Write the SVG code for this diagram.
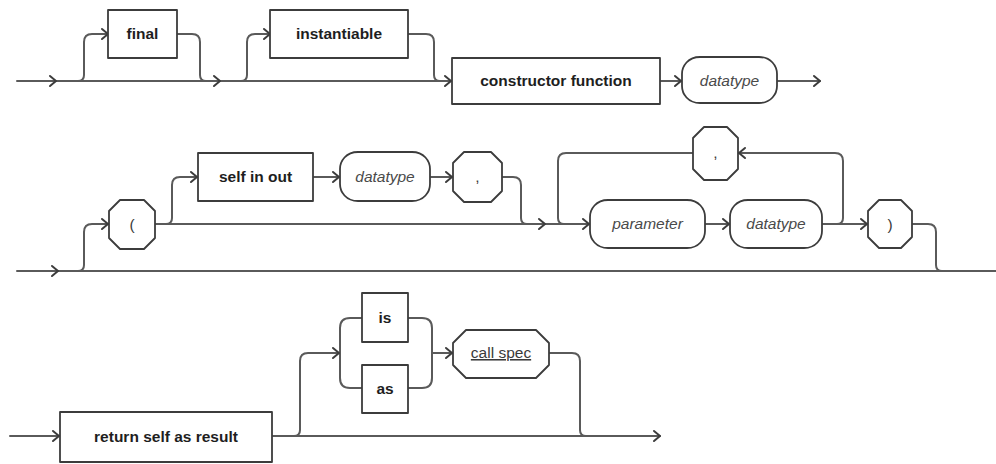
<svg xmlns="http://www.w3.org/2000/svg" xmlns:xlink="http://www.w3.org/1999/xlink" width="996" height="464" viewBox="0 0 996 464">
  <defs>
    <style>
      .line { fill: none; stroke: #5a5a5a; stroke-width: 2; stroke-linecap: round; stroke-linejoin: round; }
      .shape { fill: #ffffff; stroke: #3c3c3c; stroke-width: 1.8; stroke-linejoin: round; }
      .kw { font-family: "Liberation Sans", Arial, sans-serif; font-weight: bold; font-size: 15.5px; fill: #1e1e1e; text-anchor: middle; }
      .nt { font-family: "Liberation Sans", Arial, sans-serif; font-style: italic; font-size: 15.5px; fill: #4a4a4a; text-anchor: middle; }
      .pn { font-family: "Liberation Sans", Arial, sans-serif; font-size: 15.5px; fill: #3a3a3a; text-anchor: middle; }
      .ul { text-decoration: underline; }
    </style>
    <!-- open chevron arrowhead, tip at the origin, pointing right -->
    <path id="ah" d="M-6,-5 L0,0 L-6,5" fill="none" stroke="#3c3c3c" stroke-width="2" stroke-linecap="round" stroke-linejoin="round"/>
  </defs>

  <!-- connectors -->
  <g id="connectors">
    <!-- row 1 -->
    <path class="line" d="M17,81 H452"/>
    <path class="line" d="M78,81 Q84,81 84,75 V42 Q84,34 92,34 H108"/>
    <path class="line" d="M177,34 H192 Q200,34 200,42 V75 Q200,81 206,81"/>
    <path class="line" d="M241,81 Q247,81 247,75 V42 Q247,34 255,34 H270"/>
    <path class="line" d="M408,34 H426 Q434,34 434,42 V75 Q434,81 440,81"/>
    <path class="line" d="M660,81 H682"/>
    <path class="line" d="M777,81 H820"/>

    <!-- row 2 -->
    <path class="line" d="M17,271 H996"/>
    <path class="line" d="M78,271 Q84,271 84,265 V232 Q84,224 92,224 H109"/>
    <path class="line" d="M155,224 H590"/>
    <path class="line" d="M166,224 Q172,224 172,218 V185 Q172,177 180,177 H198"/>
    <path class="line" d="M313,177 H340"/>
    <path class="line" d="M430,177 H453"/>
    <path class="line" d="M502,177 H513 Q521,177 521,185 V218 Q521,224 527,224"/>
    <path class="line" d="M705,224 H730"/>
    <path class="line" d="M822,224 H868"/>
    <path class="line" d="M837,224 Q843,224 843,218 V161 Q843,153 835,153 H738"/>
    <path class="line" d="M693,153 H566 Q558,153 558,161 V218 Q558,224 564,224"/>
    <path class="line" d="M912,224 H928 Q936,224 936,232 V265 Q936,271 942,271"/>

    <!-- row 3 -->
    <path class="line" d="M10,436 H60"/>
    <path class="line" d="M272,436 H660"/>
    <path class="line" d="M294,436 Q300,436 300,430 V361 Q300,353 308,353 H340"/>
    <path class="line" d="M362,318 H350 Q340,318 340,328 V378 Q340,388 350,388 H362"/>
    <path class="line" d="M408,318 H422 Q432,318 432,328 V378 Q432,388 422,388 H408"/>
    <path class="line" d="M432,353 H453"/>
    <path class="line" d="M549,353 H572 Q580,353 580,361 V430 Q580,436 586,436"/>

    <!-- arrowheads -->
    <use xlink:href="#ah" x="56" y="81"/>
    <use xlink:href="#ah" x="108" y="34"/>
    <use xlink:href="#ah" x="220" y="81"/>
    <use xlink:href="#ah" x="270" y="34"/>
    <use xlink:href="#ah" x="451" y="81"/>
    <use xlink:href="#ah" x="681" y="81"/>
    <use xlink:href="#ah" x="820" y="81"/>

    <use xlink:href="#ah" x="58" y="271"/>
    <use xlink:href="#ah" x="108" y="224"/>
    <use xlink:href="#ah" x="197" y="177"/>
    <use xlink:href="#ah" x="339" y="177"/>
    <use xlink:href="#ah" x="452" y="177"/>
    <use xlink:href="#ah" x="545" y="224"/>
    <use xlink:href="#ah" x="589" y="224"/>
    <use xlink:href="#ah" x="729" y="224"/>
    <use xlink:href="#ah" x="867" y="224"/>
    <use xlink:href="#ah" transform="translate(739,153) scale(-1,1)"/>

    <use xlink:href="#ah" x="59" y="436"/>
    <use xlink:href="#ah" x="339" y="353"/>
    <use xlink:href="#ah" x="452" y="353"/>
    <use xlink:href="#ah" x="660" y="436"/>
  </g>

  <!-- row 1 nodes -->
  <g id="final">
    <rect class="shape" x="108" y="10" width="69" height="48"/>
    <text class="kw" x="142.5" y="39">final</text>
  </g>
  <g id="instantiable">
    <rect class="shape" x="270" y="10" width="138" height="48"/>
    <text class="kw" x="339" y="39">instantiable</text>
  </g>
  <g id="constructor-function">
    <rect class="shape" x="452" y="58" width="208" height="46"/>
    <text class="kw" x="556" y="86">constructor function</text>
  </g>
  <g id="datatype-1">
    <path class="shape" d="M700,57 H759 C771,57 777,66 777,74 V86 C777,94 771,103 759,103 H700 C688,103 682,94 682,86 V74 C682,66 688,57 700,57 Z"/>
    <text class="nt" x="729.5" y="86">datatype</text>
  </g>

  <!-- row 2 nodes -->
  <g id="lparen">
    <path class="shape" d="M120,200 H144 L155,211 V238 L144,249 H120 L109,238 V211 Z"/>
    <text class="pn" x="132" y="230">(</text>
  </g>
  <g id="self-in-out">
    <rect class="shape" x="198" y="153" width="115" height="48"/>
    <text class="kw" x="255.5" y="182">self in out</text>
  </g>
  <g id="datatype-2">
    <path class="shape" d="M358,152 H412 C424,152 430,161 430,169 V184 C430,192 424,201 412,201 H358 C346,201 340,192 340,184 V169 C340,161 346,152 358,152 Z"/>
    <text class="nt" x="385" y="182">datatype</text>
  </g>
  <g id="comma-1">
    <path class="shape" d="M464,152 H491 L502,163 V191 L491,202 H464 L453,191 V163 Z"/>
    <text class="pn" x="477.5" y="182">,</text>
  </g>
  <g id="comma-2">
    <path class="shape" d="M704,127 H727 L738,138 V169 L727,180 H704 L693,169 V138 Z"/>
    <text class="pn" x="715.5" y="158">,</text>
  </g>
  <g id="parameter">
    <path class="shape" d="M608,200 H687 C699,200 705,209 705,217 V231 C705,239 699,248 687,248 H608 C596,248 590,239 590,231 V217 C590,209 596,200 608,200 Z"/>
    <text class="nt" x="647.5" y="229">parameter</text>
  </g>
  <g id="datatype-3">
    <path class="shape" d="M748,200 H804 C816,200 822,209 822,217 V231 C822,239 816,248 804,248 H748 C736,248 730,239 730,231 V217 C730,209 736,200 748,200 Z"/>
    <text class="nt" x="776" y="229">datatype</text>
  </g>
  <g id="rparen">
    <path class="shape" d="M879,200 H901 L912,211 V237 L901,248 H879 L868,237 V211 Z"/>
    <text class="pn" x="890" y="230">)</text>
  </g>

  <!-- row 3 nodes -->
  <g id="return-self-as-result">
    <rect class="shape" x="60" y="412" width="212" height="50"/>
    <text class="kw" x="166" y="442">return self as result</text>
  </g>
  <g id="is">
    <rect class="shape" x="362" y="293" width="46" height="49"/>
    <text class="kw" x="385" y="323">is</text>
  </g>
  <g id="as">
    <rect class="shape" x="362" y="365" width="46" height="48"/>
    <text class="kw" x="385" y="394">as</text>
  </g>
  <g id="call-spec">
    <path class="shape" d="M466,330 H536 L549,343 V365 L536,378 H466 L453,365 V343 Z"/>
    <text class="pn ul" x="501" y="358">call spec</text>
  </g>
</svg>
